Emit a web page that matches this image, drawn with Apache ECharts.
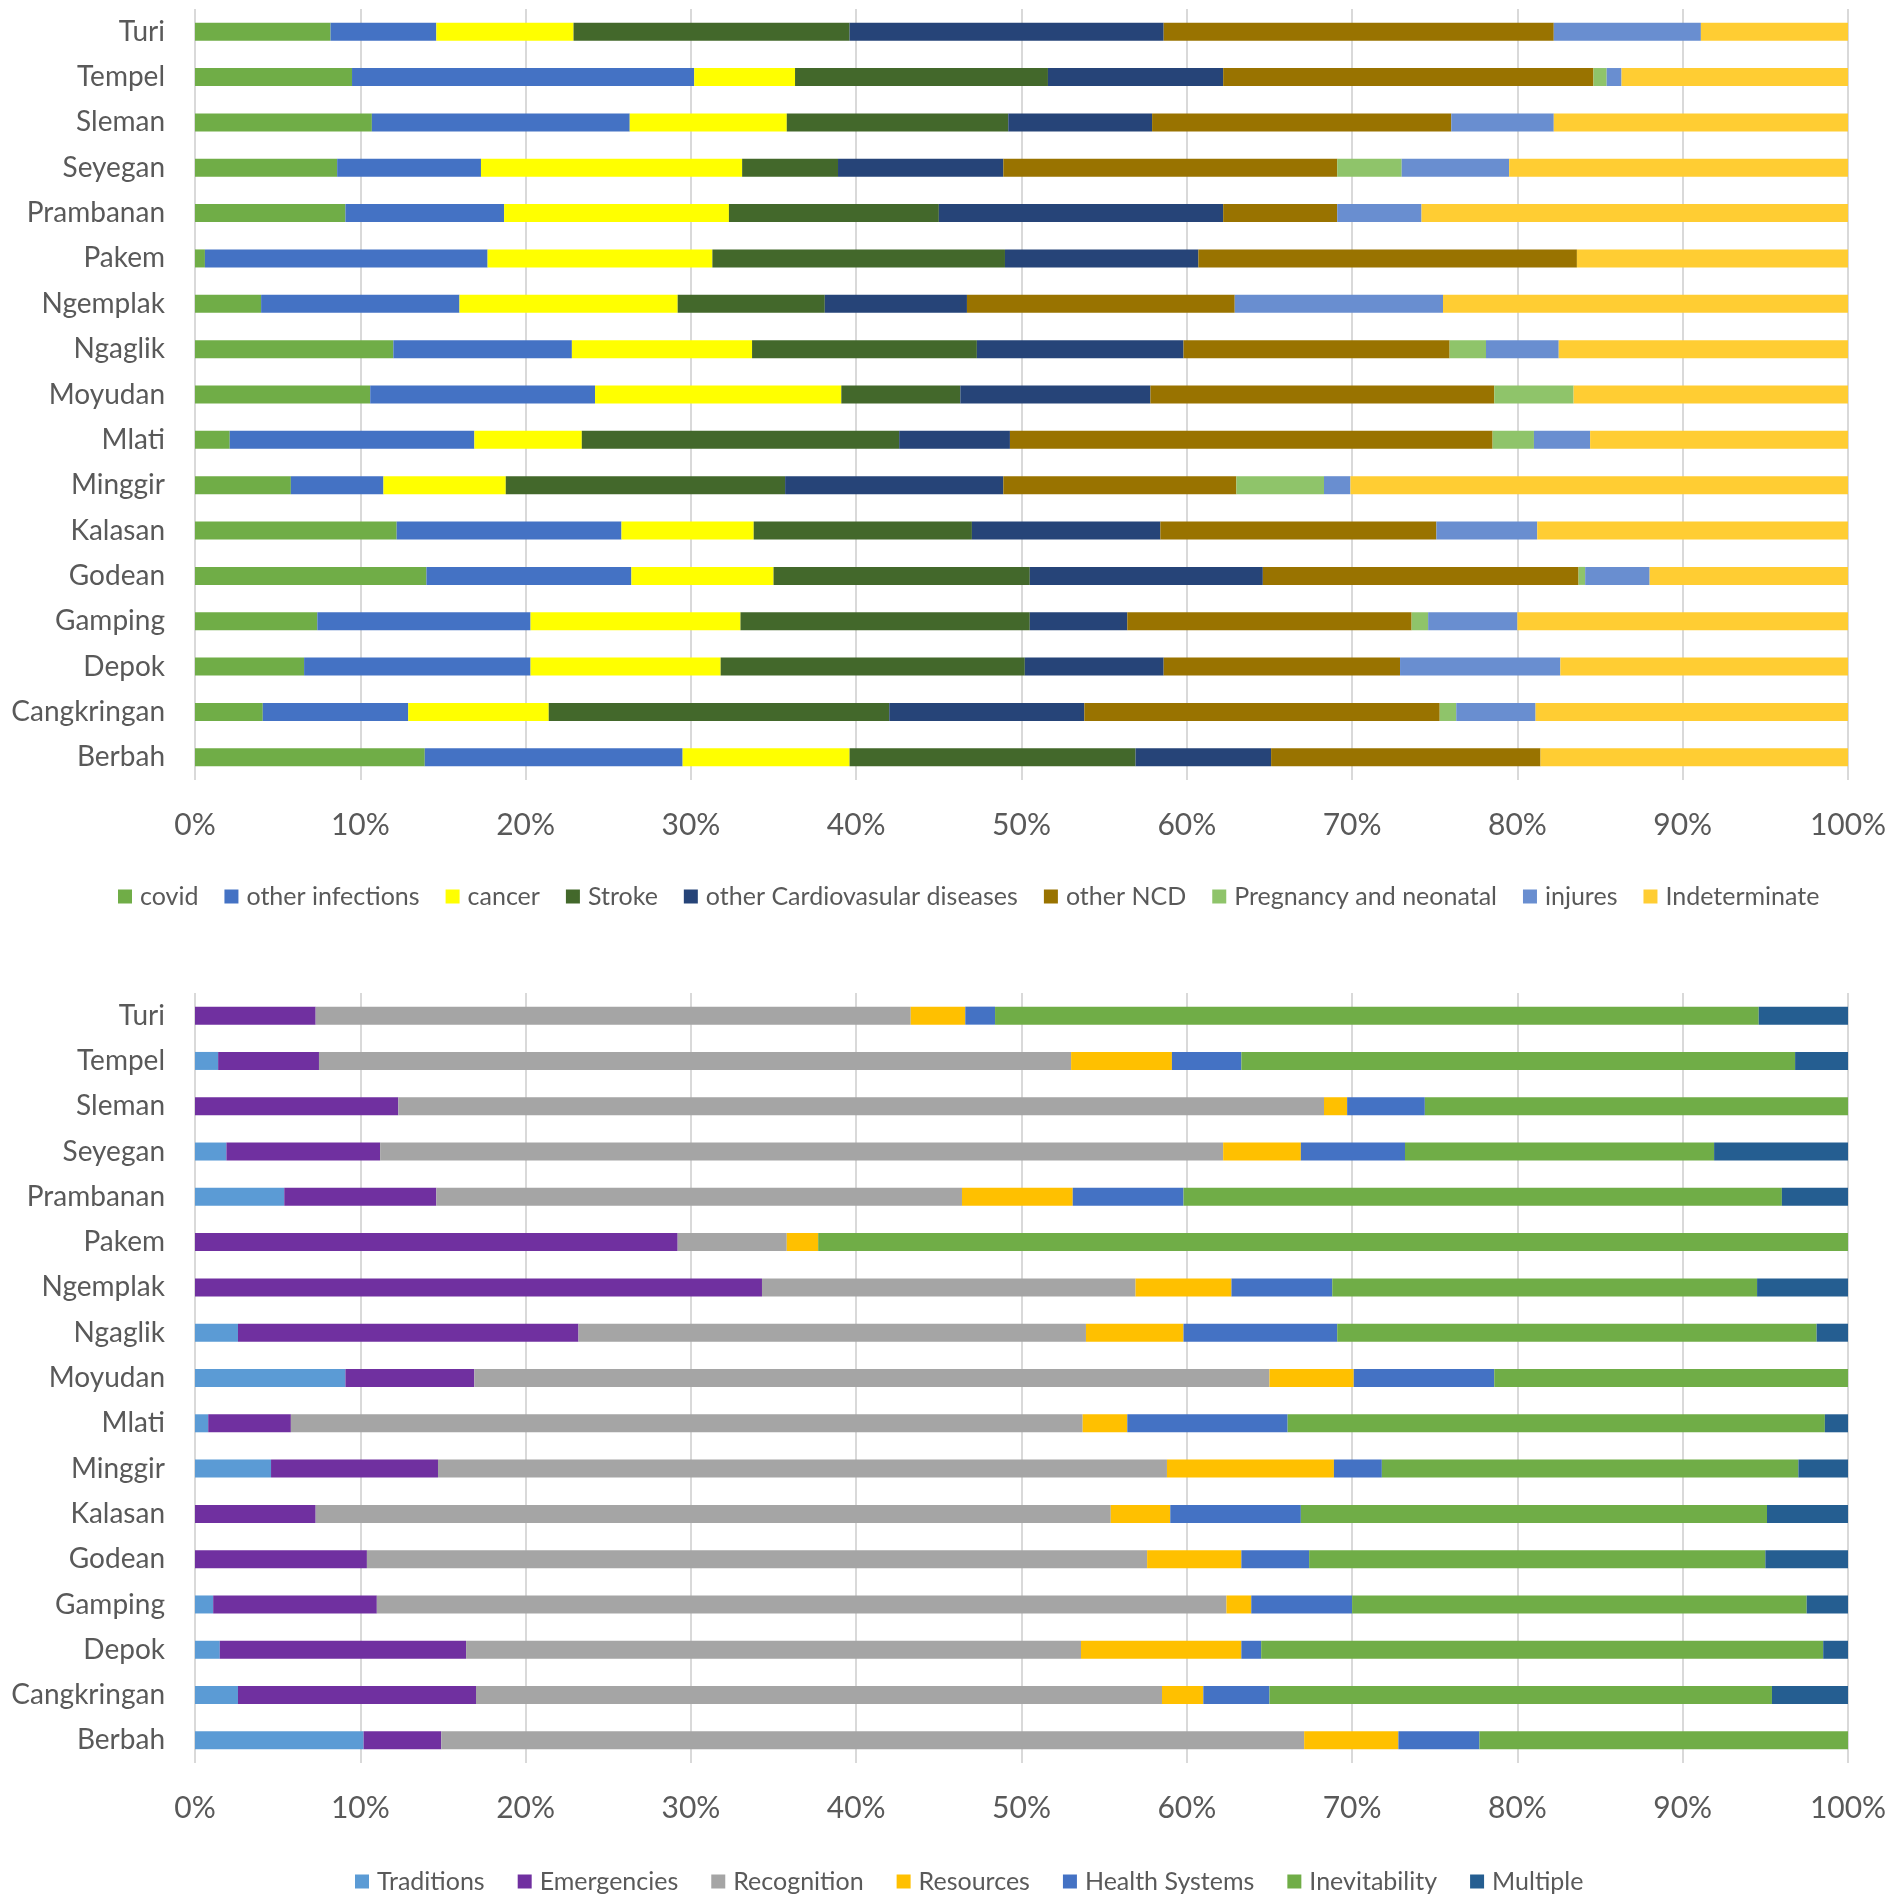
<!DOCTYPE html>
<html>
<head>
<meta charset="utf-8">
<title>Causes and factors of death by district</title>
<script src="https://cdn.jsdelivr.net/npm/echarts@6/dist/echarts.min.js"></script>
<style>
  html, body { margin: 0; padding: 0; background: #fff; }
  #chart { width: 1902px; height: 1901px; }
</style>
</head>
<body>
<div id="chart"></div>
<script>
// districts, top to bottom
const districts = ["Turi", "Tempel", "Sleman", "Seyegan", "Prambanan", "Pakem", "Ngemplak", "Ngaglik",
  "Moyudan", "Mlati", "Minggir", "Kalasan", "Godean", "Gamping", "Depok", "Cangkringan", "Berbah"];

const xTicks = [0, 10, 20, 30, 40, 50, 60, 70, 80, 90, 100];

// top chart: cause of death (percent of deaths, per district, same order as districts)
const causeNames = ["covid", "other infections", "cancer", "Stroke", "other Cardiovasular diseases",
  "other NCD", "Pregnancy and neonatal", "injures", "Indeterminate"];
const covid = [8.2, 9.5, 10.7, 8.6, 9.1, 0.6, 4.0, 12.0, 10.6, 2.1, 5.8, 12.2, 14.0, 7.4, 6.6, 4.1, 13.9];
const otherInfections = [6.4, 20.7, 15.6, 8.7, 9.6, 17.1, 12.0, 10.8, 13.6, 14.8, 5.6, 13.6, 12.4, 12.9, 13.7, 8.8, 15.6];
const cancer = [8.3, 6.1, 9.5, 15.8, 13.6, 13.6, 13.2, 10.9, 14.9, 6.5, 7.4, 8.0, 8.6, 12.7, 11.5, 8.5, 10.1];
const stroke = [16.7, 15.3, 13.4, 5.8, 12.7, 17.7, 8.9, 13.6, 7.2, 19.2, 16.9, 13.2, 15.5, 17.5, 18.4, 20.6, 17.3];
const otherCvd = [19.0, 10.6, 8.7, 10.0, 17.2, 11.7, 8.6, 12.5, 11.5, 6.7, 13.2, 11.4, 14.1, 5.9, 8.4, 11.8, 8.2];
const otherNcd = [23.6, 22.4, 18.1, 20.2, 6.9, 22.9, 16.2, 16.1, 20.8, 29.2, 14.1, 16.7, 19.1, 17.2, 14.3, 21.5, 16.3];
const pregnancy = [0, 0.8, 0, 3.9, 0, 0, 0, 2.2, 4.8, 2.5, 5.3, 0, 0.4, 1.0, 0, 1.0, 0];
const injures = [8.9, 0.9, 6.2, 6.5, 5.1, 0, 12.6, 4.4, 0, 3.4, 1.6, 6.1, 3.9, 5.4, 9.7, 4.8, 0];
const indeterminate = [8.9, 13.7, 17.8, 20.5, 25.8, 16.4, 24.5, 17.5, 16.6, 15.6, 30.1, 18.8, 12.0, 20.0, 17.4, 18.9, 18.6];

// bottom chart: contributing factor (percent of deaths)
const factorNames = ["Traditions", "Emergencies", "Recognition", "Resources", "Health Systems", "Inevitability", "Multiple"];
const traditions = [0, 1.4, 0, 1.9, 5.4, 0, 0, 2.6, 9.1, 0.8, 4.6, 0, 0, 1.1, 1.5, 2.6, 10.2];
const emergencies = [7.3, 6.1, 12.3, 9.3, 9.2, 29.2, 34.3, 20.6, 7.8, 5.0, 10.1, 7.3, 10.4, 9.9, 14.9, 14.4, 4.7];
const recognition = [36.0, 45.5, 56.0, 51.0, 31.8, 6.6, 22.6, 30.7, 48.1, 47.9, 44.1, 48.1, 47.2, 51.4, 37.2, 41.5, 52.2];
const resources = [3.3, 6.1, 1.4, 4.7, 6.7, 1.9, 5.8, 5.9, 5.1, 2.7, 10.1, 3.6, 5.7, 1.5, 9.7, 2.5, 5.7];
const healthSystems = [1.8, 4.2, 4.7, 6.3, 6.7, 0, 6.1, 9.3, 8.5, 9.7, 2.9, 7.9, 4.1, 6.1, 1.2, 4.0, 4.9];
const inevitability = [46.2, 33.5, 25.6, 18.7, 36.2, 62.3, 25.7, 29.0, 21.4, 32.5, 25.2, 28.2, 27.6, 27.5, 34.0, 30.4, 22.3];
const multiple = [5.4, 3.2, 0, 8.1, 4.0, 0, 5.5, 1.9, 0, 1.4, 3.0, 4.9, 5.0, 2.5, 1.5, 4.6, 0];

const causeData = [covid, otherInfections, cancer, stroke, otherCvd, otherNcd, pregnancy, injures, indeterminate];
const factorData = [traditions, emergencies, recognition, resources, healthSystems, inevitability, multiple];

// Excel-like palettes
const causeColors = ["#70AD47", "#4472C4", "#FFFF00", "#43682B", "#264478", "#997300", "#8FC46A", "#698ED0", "#FFCD33"];
const factorColors = ["#5B9BD5", "#7030A0", "#A5A5A5", "#FFC000", "#4472C4", "#70AD47", "#255E91"];

const font = "Lato, 'Open Sans', sans-serif";
const textColor = "#595959";

const chart = echarts.init(document.getElementById("chart"), null, { renderer: "canvas" });

function xAxisFor(gridIndex) {
  return {
    type: "value",
    gridIndex,
    min: xTicks[0],
    max: xTicks[xTicks.length - 1],
    interval: xTicks[1] - xTicks[0],
    axisLine: { show: false },
    axisTick: { show: false },
    axisLabel: {
      formatter: "{value}%",
      color: textColor,
      fontSize: 30,
      fontFamily: font,
      margin: 30,
    },
    splitLine: { show: true, lineStyle: { color: "#D9D9D9", width: 2 } },
  };
}

function yAxisFor(gridIndex) {
  return {
    type: "category",
    gridIndex,
    inverse: true,
    data: districts,
    axisLine: { show: false },
    axisTick: { show: false },
    axisLabel: {
      color: textColor,
      fontSize: 28,
      fontFamily: font,
      margin: 30,
    },
  };
}

function barSeries(names, data, colors, axisIndex, stack) {
  return names.map((name, i) => ({
    name,
    type: "bar",
    stack,
    xAxisIndex: axisIndex,
    yAxisIndex: axisIndex,
    barWidth: 18,
    itemStyle: { color: colors[i] },
    emphasis: { disabled: true },
    data: data[i],
  }));
}

function legendFor(names, left, top, gap) {
  return {
    data: names,
    top,
    left,
    itemWidth: 14,
    itemHeight: 14,
    itemGap: gap,
    icon: "rect",
    textStyle: { color: textColor, fontSize: 25, fontFamily: font, padding: [0, 0, 0, 3] },
    selectedMode: false,
  };
}

const option = {
  backgroundColor: "#ffffff",
  animation: false,
  grid: [
    { left: 195, right: 54, top: 9, height: 771 },
    { left: 195, right: 54, top: 993, height: 770 },
  ],
  xAxis: [xAxisFor(0), xAxisFor(1)],
  yAxis: [yAxisFor(0), yAxisFor(1)],
  legend: [
    legendFor(causeNames, 113, 879, 26),
    legendFor(factorNames, 350, 1864, 33),
  ],
  series: [
    ...barSeries(causeNames, causeData, causeColors, 0, "cause"),
    ...barSeries(factorNames, factorData, factorColors, 1, "factor"),
  ],
};

chart.setOption(option);
</script>
</body>
</html>
